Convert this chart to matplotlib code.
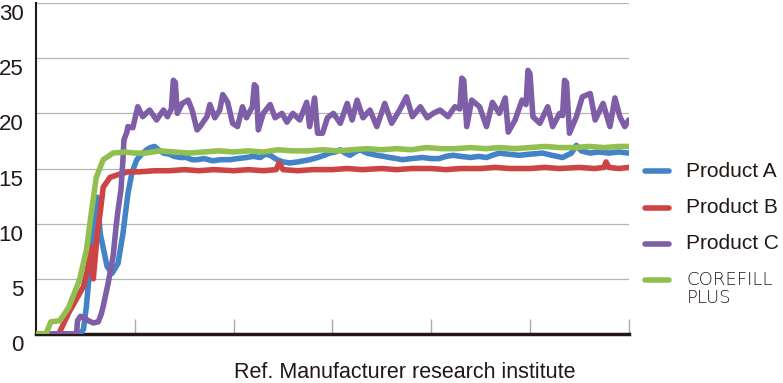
import matplotlib.pyplot as plt
from matplotlib.lines import Line2D
from matplotlib.transforms import ScaledTranslation

# values (time 0-60, value 0-30)
a_x = [0, 4.2, 4.6, 4.8, 5.1, 5.4, 5.9, 6.1, 6.2, 6.5, 7.2, 7.7, 8.3, 8.8, 9.3, 9.7,
       10.2, 10.7, 11.2, 11.6, 12.0, 12.4, 12.9, 13.5, 14.0, 14.6, 15.2, 15.8, 16.3, 17.0, 17.9,
       18.7, 19.6, 20.4, 21.3, 22.0, 22.7, 23.2, 23.7, 24.4, 25.0, 25.7, 26.5, 27.1, 27.7, 28.5,
       29.2, 29.7, 30.3, 30.8, 31.3, 31.8, 32.3, 32.8, 33.5, 34.5, 35.2, 35.8, 36.5, 37.1, 38.0,
       39.1, 40.0, 40.8, 41.5, 42.2, 43.0, 44.0, 44.8, 45.6, 46.2, 46.9, 47.8, 48.9, 50.0, 51.3,
       52.2, 53.3, 54.2, 54.7, 55.2, 56.1, 57.0, 58.0, 59.0, 60]
a_y = [0, 0, 0.2, 0.4, 2.5, 5.5, 10.0, 12.3, 12.4, 9.1, 6.1, 5.5, 6.4, 9.1, 12.7, 14.6,
       15.8, 16.3, 16.7, 16.9, 17.0, 16.7, 16.4, 16.3, 16.1, 16.0, 16.0, 15.8, 15.8, 15.9, 15.7,
       15.8, 15.8, 15.9, 16.0, 16.1, 16.0, 16.3, 16.2, 15.8, 15.6, 15.5, 15.6, 15.7, 15.8, 16.0,
       16.2, 16.4, 16.5, 16.7, 16.4, 16.2, 16.5, 16.7, 16.4, 16.2, 16.1, 16.0, 15.9, 15.8, 15.9,
       16.0, 15.9, 15.9, 16.1, 16.2, 16.1, 16.0, 16.1, 16.0, 16.2, 16.4, 16.3, 16.2, 16.3, 16.4,
       16.2, 16.0, 16.4, 17.1, 16.6, 16.4, 16.5, 16.4, 16.5, 16.4]

b_x = [0, 2.3, 3.3, 4.8, 5.2, 5.6, 5.8, 6.2, 6.5, 6.8, 7.5, 8.5, 9.3, 10.5, 12, 13.5, 15, 16.5,
       18, 20, 21.5, 23, 24.3, 24.6, 25, 26.5, 28, 30, 31.5, 33, 35, 36.5, 38, 40, 41.5, 43, 45,
       46.5, 48, 50, 51.5, 53, 55, 56.5, 57.5, 57.7, 58, 59, 60]
b_y = [0, 0, 1.9, 4.3, 5.8, 7.9, 5.0, 9.1, 11.0, 13.3, 14.2, 14.5, 14.7, 14.7, 14.8, 14.8, 14.9, 14.8,
       14.9, 14.8, 14.9, 14.8, 14.9, 15.5, 14.9, 14.8, 14.9, 14.9, 15.0, 14.9, 15.0, 14.9, 15.0, 15.0,
       14.9, 15.0, 15.0, 15.1, 15.0, 15.0, 15.1, 15.0, 15.1, 15.0, 15.1, 15.6, 15.1, 15.0, 15.1]

c_x = [0, 4.1, 4.2, 4.5, 4.8, 5.3, 5.8, 6.3, 6.6, 6.8, 7.3, 7.8, 8.1, 8.3, 8.6, 8.8, 8.9, 9.2, 9.3,
       9.8, 10.3, 10.8, 11.5, 12.2, 12.9, 13.3, 13.7, 13.9, 14.1, 14.3, 14.8, 15.4, 15.8, 16.3, 16.6,
       17.3, 17.6, 18.1, 18.6, 18.9, 19.4, 19.9, 20.4, 20.9, 21.3, 21.9, 22.1, 22.3, 22.5, 23.0, 23.7,
       24.2, 24.9, 25.4, 26.0, 26.7, 27.4, 27.7, 28.2, 28.5, 29.0, 29.5, 30.1, 30.8, 31.5, 32.0,
       32.5, 33.1, 33.8, 34.5, 35.3, 36.0, 36.8, 37.5, 38.1, 38.9, 39.6, 40.2, 40.9, 41.7, 42.4,
       42.9, 43.1, 43.3, 43.6, 44.1, 44.9, 45.6, 46.2, 46.9, 47.5, 47.8, 48.5, 49.2, 49.6, 49.8,
       50.0, 50.3, 51.0, 51.8, 52.3, 53.0, 53.3, 53.5, 53.7, 54.0, 54.7, 55.3, 56.1, 56.6, 57.4,
       58.1, 58.6, 59.1, 59.6, 60]
c_y = [0, 0, 1.2, 1.6, 1.5, 1.2, 1.0, 1.1, 1.8, 2.5, 4.6, 7.0, 9.7, 11.2, 13.1, 15.8, 17.6, 18.3, 18.8,
       18.7, 20.6, 19.7, 20.3, 19.4, 20.3, 19.7, 20.4, 23.0, 22.8, 20.0, 20.9, 21.2, 20.3, 18.5, 18.8,
       19.7, 20.8, 19.6, 20.3, 21.7, 21.0, 19.1, 18.8, 20.6, 19.6, 20.6, 22.6, 22.4, 18.5, 20.0, 20.8,
       19.6, 20.0, 19.2, 20.0, 19.4, 21.0, 18.8, 21.4, 18.2, 18.2, 19.6, 20.0, 19.1, 20.9, 19.4,
       21.2, 19.6, 20.3, 18.8, 20.9, 19.1, 20.3, 21.5, 19.7, 20.6, 19.6, 20.0, 20.3, 19.7, 20.6,
       20.4, 23.2, 23.0, 18.8, 21.2, 20.6, 18.8, 21.0, 20.0, 21.4, 18.3, 19.4, 21.2, 20.8, 23.9,
       23.6, 19.7, 19.1, 20.6, 18.8, 20.0, 19.8, 23.0, 22.8, 18.2, 19.7, 21.5, 21.8, 19.4, 20.9,
       18.8, 21.4, 19.7, 18.8, 19.4]

cf_x = [0, 1.0, 1.5, 2.4, 3.3, 4.4, 5.1, 5.6, 6.1, 6.8, 7.8, 9, 10, 11.1, 12.5, 14, 15.5, 17, 18.5,
        20, 21.5, 23, 24.5, 26, 27.5, 29, 30.5, 32, 33.5, 35, 36.5, 38, 39.5, 41, 42.5, 44, 45.5,
        47, 48.5, 50, 51.5, 53, 54.5, 56, 57.5, 59, 60]
cf_y = [0, 0, 1.1, 1.2, 2.4, 4.9, 7.6, 11.0, 14.2, 15.8, 16.4, 16.5, 16.4, 16.4, 16.6, 16.5, 16.4,
        16.5, 16.6, 16.5, 16.6, 16.5, 16.7, 16.6, 16.6, 16.7, 16.6, 16.7, 16.8, 16.7, 16.8, 16.7,
        16.9, 16.8, 16.8, 16.9, 16.8, 16.9, 16.8, 16.9, 17.0, 16.9, 16.9, 17.0, 16.9, 17.0, 17.0]

names = ["Product A", "Product B", "Product C", "COREFILL\nPLUS"]
colors = ["#4383c8", "#cc4444", "#7e5ea6", "#92c050"]
yticks = [0, 5, 10, 15, 20, 25, 30]
xticks = [10, 20, 30, 40, 50, 60]

fig = plt.figure(figsize=(7.83, 3.83), dpi=100)
ax = fig.add_axes([0.046, 0.128, 0.757, 0.864])

for g in yticks[1:]:
    ax.axhline(g, color="#b5b5b5", lw=0.9, zorder=1)

series = [(a_x, a_y), (b_x, b_y), (c_x, c_y), (cf_x, cf_y)]
order = [2, 0, 1, 3]
for i in order:
    x, y = series[i]
    ax.plot(x, y, color=colors[i], lw=4.0, solid_joinstyle="round", solid_capstyle="round", zorder=3 + i)

ax.set_xlim(0, 60)
ax.set_ylim(0, 30)
ax.set_xticks(xticks)
ax.set_xticklabels([])
ax.set_yticks(yticks)
ax.set_yticklabels([str(v) for v in yticks], fontsize=16, family="Liberation Sans", color="#231815")
ax.tick_params(axis="x", direction="in", length=11, width=1, color="#aaaaaa")
ax.tick_params(axis="y", length=0, pad=9)
for lab in ax.get_yticklabels():
    lab.set_transform(lab.get_transform() + ScaledTranslation(0, -9 / 100, fig.dpi_scale_trans))

for s in ["top", "right"]:
    ax.spines[s].set_visible(False)
ax.spines["left"].set_linewidth(1.5)
ax.spines["left"].set_color("#231815")
ax.spines["bottom"].set_linewidth(2.5)
ax.spines["bottom"].set_color("#231815")

# legend drawn by hand on the right
leg_y = [0.553, 0.457, 0.363, 0.268]
for i in range(4):
    fig.add_artist(Line2D([0.824, 0.854], [leg_y[i], leg_y[i]], color=colors[i], lw=4,
                          solid_capstyle="round"))
    if i < 3:
        fig.text(0.876, leg_y[i], names[i], fontsize=15, family="Liberation Sans",
                 color="#231815", va="center")
    else:
        fig.text(0.877, leg_y[i] + 0.025, names[i], fontsize=13, family="DejaVu Sans",
                 fontweight="light", color="#231815", va="top", linespacing=1.0)

fig.text(0.517, 0.014, "Ref. Manufacturer research institute", fontsize=15.5, family="Liberation Sans",
         color="#231815", ha="center", va="baseline")

fig.savefig("out.png", dpi=100)
